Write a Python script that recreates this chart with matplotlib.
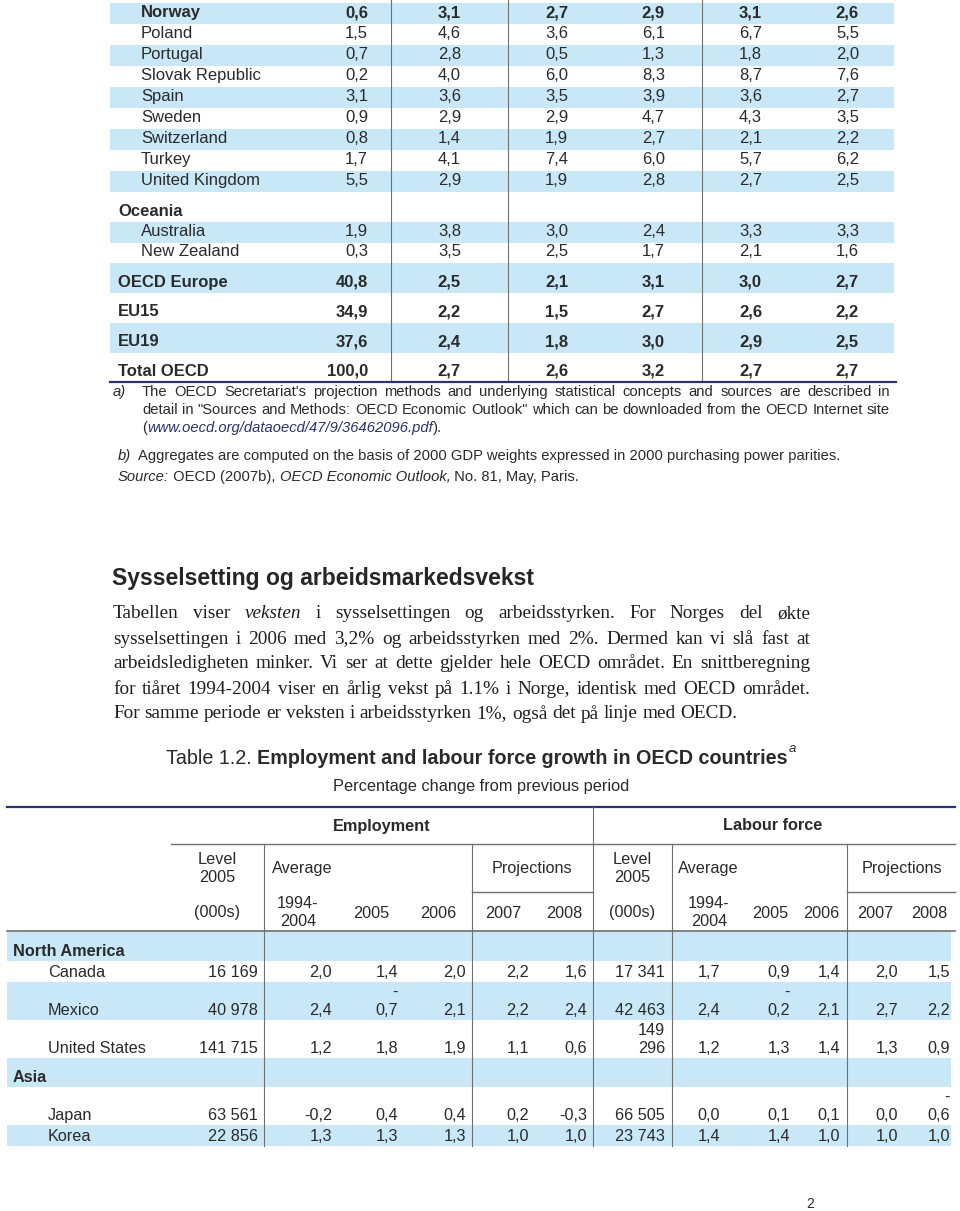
import matplotlib
matplotlib.use('Agg')
import matplotlib.pyplot as plt

# ---------------- data: upper table (continued from previous page) ----------------
top_names = ['Norway', 'Poland', 'Portugal', 'Slovak Republic', 'Spain', 'Sweden',
             'Switzerland', 'Turkey', 'United Kingdom', 'Oceania', 'Australia',
             'New Zealand', 'OECD Europe', 'EU15', 'EU19', 'Total OECD']
top_kind = ['hl', 'c', 'c', 'c', 'c', 'c', 'c', 'c', 'c', 'grp', 'c', 'c',
            'agg', 'agg', 'agg', 'agg']
top_weight = [0.6, 1.5, 0.7, 0.2, 3.1, 0.9, 0.8, 1.7, 5.5, None, 1.9, 0.3, 40.8, 34.9, 37.6, 100.0]
top_avg    = [3.1, 4.6, 2.8, 4.0, 3.6, 2.9, 1.4, 4.1, 2.9, None, 3.8, 3.5, 2.5, 2.2, 2.4, 2.7]
top_2005   = [2.7, 3.6, 0.5, 6.0, 3.5, 2.9, 1.9, 7.4, 1.9, None, 3.0, 2.5, 2.1, 1.5, 1.8, 2.6]
top_2006   = [2.9, 6.1, 1.3, 8.3, 3.9, 4.7, 2.7, 6.0, 2.8, None, 2.4, 1.7, 3.1, 2.7, 3.0, 3.2]
top_2007   = [3.1, 6.7, 1.8, 8.7, 3.6, 4.3, 2.1, 5.7, 2.7, None, 3.3, 2.1, 3.0, 2.6, 2.9, 2.7]
top_2008   = [2.6, 5.5, 2.0, 7.6, 2.7, 3.5, 2.2, 6.2, 2.5, None, 3.3, 1.6, 2.7, 2.2, 2.5, 2.7]

# ---------------- data: Table 1.2 ----------------
bot_names = ['North America', 'Canada', 'Mexico', 'United States', 'Asia', 'Japan', 'Korea']
bot_kind = ['grp', 'c', 'c', 'c', 'grp', 'c', 'c']
emp_level = [None, 16169, 40978, 141715, None, 63561, 22856]
emp_avg   = [None, 2.0, 2.4, 1.2, None, -0.2, 1.3]
emp_2005  = [None, 1.4, -0.7, 1.8, None, 0.4, 1.3]
emp_2006  = [None, 2.0, 2.1, 1.9, None, 0.4, 1.3]
emp_2007  = [None, 2.2, 2.2, 1.1, None, 0.2, 1.0]
emp_2008  = [None, 1.6, 2.4, 0.6, None, -0.3, 1.0]
lab_level = [None, 17341, 42463, 149296, None, 66505, 23743]
lab_avg   = [None, 1.7, 2.4, 1.2, None, 0.0, 1.4]
lab_2005  = [None, 0.9, -0.2, 1.3, None, 0.1, 1.4]
lab_2006  = [None, 1.4, 2.1, 1.4, None, 0.1, 1.0]
lab_2007  = [None, 2.0, 2.7, 1.3, None, 0.0, 1.0]
lab_2008  = [None, 1.5, 2.2, 0.9, None, -0.6, 1.0]
wrapped_cells = {(2, 2), (2, 8), (3, 6), (5, 11)}   # cells broken over two lines

year_labels = ['2005', '2006', '2007', '2008']

heading = 'Sysselsetting og arbeidsmarkedsvekst'
paragraph = [
    'Tabellen viser *veksten i sysselsettingen og arbeidsstyrken. For Norges del økte',
    'sysselsettingen i 2006 med 3,2% og arbeidsstyrken med 2%. Dermed kan vi slå fast at',
    'arbeidsledigheten minker. Vi ser at dette gjelder hele OECD området. En snittberegning',
    'for tiåret 1994-2004 viser en årlig vekst på 1.1% i Norge, identisk med OECD området.',
    'For samme periode er veksten i arbeidsstyrken 1%, også det på linje med OECD.',
]
note_a = ["The OECD Secretariat's projection methods and underlying statistical concepts and sources are described in",
          'detail in "Sources and Methods: OECD Economic Outlook" which can be downloaded from the OECD Internet site']
note_url = 'www.oecd.org/dataoecd/47/9/36462096.pdf'
note_b = 'Aggregates are computed on the basis of 2000 GDP weights expressed in 2000 purchasing power parities.'

# ---------------- canvas ----------------
W, H = 960, 1211
fig = plt.figure(figsize=(W / 100, H / 100), dpi=100)
ax = fig.add_axes([0, 0, 1, 1])
ax.set_xlim(0, W)
ax.set_ylim(H, 0)
ax.axis('off')
R = fig.canvas.get_renderer()

SANS = ['Liberation Sans', 'DejaVu Sans']
SERIF = ['Liberation Serif', 'DejaVu Serif']
BLUE = '#c8e8f8'
INK = '#2a2a2a'
NAVY = '#2e3070'
GRID = '#707070'


def T(x, y, s, size=12, weight='normal', style='normal', ha='left', va='center',
      color=INK, family=SANS):
    return ax.text(x, y, s, fontsize=size, fontweight=weight, fontstyle=style,
                   ha=ha, va=va, color=color, family=family)


def width(s, **kw):
    a = T(0, 0, 'x' + s + 'x', **kw)
    b = T(0, 0, 'xx', **kw)
    w = a.get_window_extent(R).width - b.get_window_extent(R).width
    a.remove(); b.remove()
    return w


def runs(x, y, parts, **base):
    for s, o in parts:
        k = dict(base); k.update(o)
        T(x, y, s, **k)
        x += width(s, **k)
    return x


def line_words(words, x0, x1, y, justify=True, **base):
    items = []
    for w, o in words:
        k = dict(base); k.update(o)
        items.append((w, k, width(w, **k)))
    tot = sum(i[2] for i in items)
    gap = (x1 - x0 - tot) / (len(items) - 1) if justify else width(' ', **base)
    x = x0
    for w, k, wd in items:
        T(x, y, w, **k)
        x += wd + gap


def fmt_dec(v):
    return f'{v:.1f}'.replace('.', ',')


def fmt_int(v):
    return f'{v:,}'.replace(',', ' ')


# ================= upper table =================
TOP_X0, TOP_X1 = 110, 894
top_heights = [21] * 9 + [30.5, 20.5, 20.5, 30, 30, 30, 29]
top_cols = [top_weight, top_avg, top_2005, top_2006, top_2007, top_2008]
top_right = [368, 461, 568, 665, 762, 859]
y = 2.5
for i, name in enumerate(top_names):
    h = top_heights[i]
    if i % 2 == 0:
        ax.add_patch(plt.Rectangle((TOP_X0, y), TOP_X1 - TOP_X0, h, color=BLUE, lw=0, zorder=0))
    yt = y + h - 11
    kind = top_kind[i]
    bold = 'bold' if kind in ('hl', 'agg', 'grp') else 'normal'
    xn = 141 if kind in ('hl', 'c') else 118
    T(xn, yt, name, size=12, weight=bold)
    for c, col in enumerate(top_cols):
        if col[i] is not None:
            T(top_right[c], yt, fmt_dec(col[i]), size=12, weight=bold, ha='right')
    y += h
top_bottom = y
for xv in [391, 508, 702]:
    ax.plot([xv, xv], [0, top_bottom], color=GRID, lw=0.8, zorder=1)
ax.plot([TOP_X0, TOP_X1 + 2], [top_bottom, top_bottom], color=NAVY, lw=1.6, zorder=2)

# footnotes
FN = 10.65
T(113, 392, 'a)', size=FN, style='italic')
for k, (line, yy) in enumerate(zip(note_a, [392, 410])):
    line_words([(w, {}) for w in line.split(' ')], 142, 890, yy, size=FN)
runs(142, 428, [('(', {}), (note_url, {'style': 'italic', 'color': NAVY}), (').', {})], size=FN)
T(118, 456, 'b)', size=FN, style='italic')
T(138, 456, note_b, size=FN)
runs(118, 477, [('Source:', {'style': 'italic'}), (' OECD (2007b), ', {}),
                ('OECD Economic Outlook,', {'style': 'italic'}), (' No. 81, May, Paris.', {})], size=FN)

# ================= heading and paragraph =================
T(112, 578, heading, size=16.5, weight='bold', color='#262626')
PS = 13.9
for k, line in enumerate(paragraph):
    words = []
    for w in line.split(' '):
        if w.startswith('*'):
            words.append((w[1:], {'style': 'italic'}))
        else:
            words.append((w, {}))
    line_words(words, 113, 810, 614 + 25 * k, justify=(k < len(paragraph) - 1),
               size=PS, family=SERIF, color='#1e1e1e')

# ================= Table 1.2 title =================
TS = 14.2
parts = [('Table 1.2. ', {}), ('Employment and labour force growth in OECD countries', {'weight': 'bold'})]
tw = sum(width(s, size=TS, **o) for s, o in parts)
xe = runs(481 - tw / 2 - 4, 758, parts, size=TS)
T(xe + 1, 749, 'a', size=9.5, style='italic')
T(481, 787, 'Percentage change from previous period', size=11.8, ha='center')

# ================= Table 1.2 grid =================
ax.plot([7, 955], [807, 807], color=NAVY, lw=1.6)
ax.plot([171, 955], [844, 844], color=GRID, lw=1.0)
ax.plot([472, 593], [892, 892], color=GRID, lw=1.0)
ax.plot([847, 955], [892, 892], color=GRID, lw=1.0)
ax.plot([7, 955], [931, 931], color=GRID, lw=1.2)

HS = 11.7
T(382, 826, 'Employment', size=HS, weight='bold', ha='center')
T(773, 826, 'Labour force', size=HS, weight='bold', ha='center')
for xc in [217, 632]:
    T(xc, 860, 'Level', size=HS, ha='center')
    T(xc, 878, '2005', size=HS, ha='center')
    T(xc, 913, '(000s)', size=HS, ha='center')
for xa in [272, 678]:
    T(xa, 869, 'Average', size=HS)
for xp in [532, 902]:
    T(xp, 869, 'Projections', size=HS, ha='center')
for xc in [298, 709]:
    T(xc, 904, '1994-', size=HS, ha='center')
    T(xc, 922, '2004', size=HS, ha='center')
for xs in ([371, 438, 503, 564], [770, 821, 875, 929]):
    for xc, lab in zip(xs, year_labels):
        T(xc, 913, lab, size=HS, ha='center')

bot_heights = [30, 21, 38, 38, 29, 38, 21]
bot_cols = [emp_level, emp_avg, emp_2005, emp_2006, emp_2007, emp_2008,
            lab_level, lab_avg, lab_2005, lab_2006, lab_2007, lab_2008]
bot_right = [258, 332, 398, 466, 529, 587, 665, 720, 790, 840, 898, 950]
y = 931
for i, name in enumerate(bot_names):
    h = bot_heights[i]
    if i % 2 == 0:
        ax.add_patch(plt.Rectangle((7, y), 944, h, color=BLUE, lw=0, zorder=0))
    yt = y + h - 9.5
    grp = bot_kind[i] == 'grp'
    T(13 if grp else 48, yt, name, size=HS, weight='bold' if grp else 'normal')
    for c, col in enumerate(bot_cols):
        v = col[i]
        if v is None:
            continue
        s = fmt_int(v) if c in (0, 6) else fmt_dec(v)
        if (i, c) in wrapped_cells:
            if s.startswith('-'):
                top_s, bot_s = '-', s[1:]
            else:
                top_s, bot_s = s.split(' ', 1)
            T(bot_right[c], yt - 18, top_s, size=HS, ha='right')
            T(bot_right[c], yt, bot_s, size=HS, ha='right')
        else:
            T(bot_right[c], yt, s, size=HS, ha='right')
    y += h
bot_bottom = y
ax.plot([593, 593], [807, bot_bottom], color=GRID, lw=0.8)
for xv in [264, 472, 672, 847]:
    ax.plot([xv, xv], [844, bot_bottom], color=GRID, lw=0.8)

T(806, 1204, '2', size=10)

fig.savefig('out.png', dpi=100, facecolor='white')
